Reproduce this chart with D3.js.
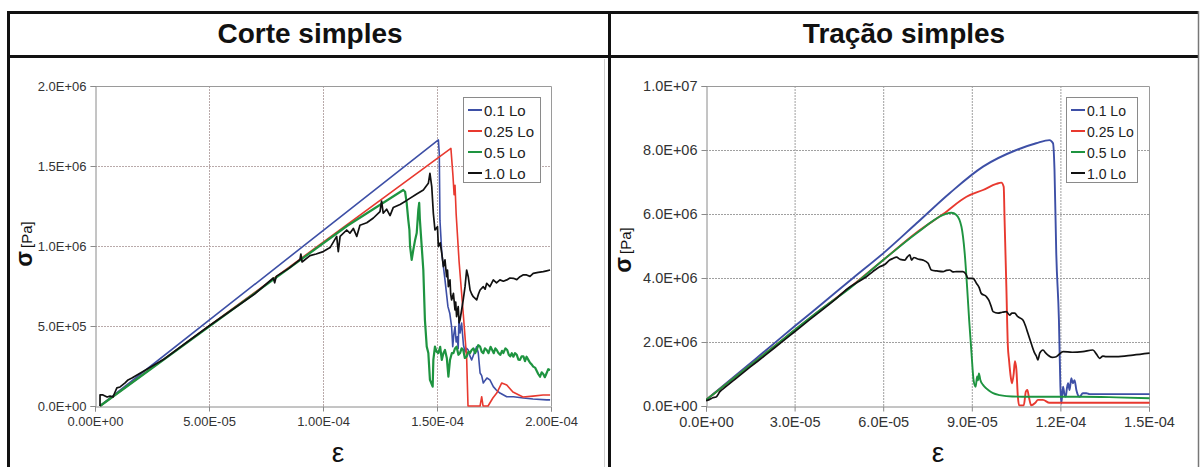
<!DOCTYPE html>
<html>
<head>
<meta charset="utf-8">
<script src="https://cdn.jsdelivr.net/npm/d3@7"></script>
<style>
  html, body { margin: 0; padding: 0; background: #ffffff; }
  svg { display: block; }
  text { font-family: "Liberation Sans", Arial, Helvetica, sans-serif; }
</style>
</head>
<body>
<svg id="fig" width="1201" height="467"></svg>
<script>
// Strain in units of 1e-6, stress in MPa (1e6 Pa).

const seriesNames = ["0.1 Lo", "0.25 Lo", "0.5 Lo", "1.0 Lo"];
const seriesColors = ["#3d4fa6", "#e8392f", "#1e9440", "#111111"];

// ---- Corte simples (simple shear) ----
const shearBlue = [[2.2,0],[150.6,1.663],[151.0,1.58],[151.3,1.16],[152.1,0.956],[153.5,0.788],[154.8,0.621],[155.6,0.58],[156.4,0.496],[156.9,0.371],[157.4,0.45],[157.9,0.496],[158.4,0.40],[158.9,0.433],[159.3,0.36],[159.6,0.538],[160.1,0.456],[160.8,0.519],[161.6,0.381],[162.3,0.338],[163.0,0.36],[163.7,0.35],[164.5,0.31],[165.2,0.288],[166.3,0.33],[167.4,0.371],[168.1,0.331],[168.9,0.206],[169.6,0.19],[170.3,0.144],[171.1,0.16],[171.9,0.175],[173.2,0.163],[174.7,0.121],[176.0,0.10],[177.6,0.081],[180.6,0.058],[183.5,0.058],[187.9,0.05],[192.1,0.044],[198.1,0.038],[199.6,0.038]];

const shearRed = [[2.2,0],[156.1,1.61],[157.0,1.44],[157.5,1.32],[157.9,1.38],[158.4,1.20],[159.7,0.90],[161.5,0.58],[163.0,0.30],[163.6,0],[168.9,0],[169.6,0.058],[170.2,0],[172.4,0],[174.5,0.05],[176.2,0.081],[178.4,0.144],[180.6,0.131],[183.3,0.0875],[187.7,0.056],[192.1,0.062],[196.5,0.069],[199.6,0.069]];

const shearGreen = [[2.2,0],[110.5,1.125],[135.2,1.35],[136.0,1.339],[136.7,1.269],[137.4,1.163],[137.9,1.10],[138.2,0.996],[138.9,0.913],[139.6,0.975],[140.4,1.038],[141.1,1.081],[141.8,1.225],[142.2,1.269],[142.5,1.163],[143.3,0.996],[144.0,0.85],[144.7,0.538],[145.5,0.371],[146.2,0.331],[146.9,0.163],[148.1,0.121],[148.4,0.288],[149.1,0.371],[149.8,0.34],[150.6,0.331],[151.4,0.37],[152.1,0.288],[152.8,0.33],[153.5,0.35],[154.3,0.30],[155.0,0.183],[155.7,0.288],[156.5,0.33],[157.2,0.331],[157.9,0.36],[158.6,0.371],[159.4,0.32],[160.1,0.331],[160.8,0.36],[161.5,0.35],[162.2,0.30],[163.0,0.308],[163.8,0.34],[164.5,0.331],[165.2,0.35],[166.0,0.36],[166.7,0.33],[167.4,0.35],[168.1,0.38],[168.9,0.371],[169.6,0.34],[170.3,0.33],[171.0,0.36],[171.8,0.35],[172.6,0.33],[173.5,0.37],[174.2,0.35],[174.9,0.33],[175.6,0.36],[176.2,0.35],[177.0,0.33],[177.8,0.32],[178.5,0.345],[179.1,0.331],[180.0,0.36],[180.8,0.35],[181.5,0.32],[182.1,0.31],[182.8,0.33],[183.5,0.308],[184.2,0.33],[185.0,0.32],[185.7,0.29],[186.4,0.288],[187.1,0.31],[187.9,0.31],[188.6,0.28],[189.3,0.308],[190.0,0.29],[190.8,0.27],[191.5,0.26],[192.2,0.246],[193.0,0.24],[193.7,0.22],[194.4,0.20],[195.2,0.183],[195.9,0.21],[196.6,0.20],[197.3,0.18],[198.1,0.206],[198.8,0.23],[199.6,0.225]];

const shearBlack = [[2.2,0],[2.2,0.069],[3.5,0.069],[5.3,0.056],[6.6,0.062],[7.9,0.056],[8.8,0.0875],[9.6,0.113],[11.0,0.119],[13.2,0.144],[14.5,0.163],[16.2,0.175],[30,0.29],[40,0.395],[50,0.50],[60,0.60],[70,0.70],[78.2,0.800],[78.8,0.77],[79.5,0.81],[85,0.86],[89.9,0.915],[90.3,0.95],[90.8,0.90],[94.3,0.94],[97,0.95],[100.1,0.965],[103.1,0.99],[106.0,1.06],[106.7,0.965],[107.5,1.06],[110.4,1.10],[111.8,1.08],[113.3,1.11],[114.8,1.06],[116.2,1.13],[119.2,1.145],[122.1,1.175],[125.0,1.215],[125.7,1.28],[126.4,1.205],[127.9,1.23],[129.4,1.19],[130.8,1.24],[133.8,1.26],[136.7,1.285],[141.1,1.325],[144.0,1.35],[146.2,1.392],[146.9,1.454],[147.7,1.371],[148.4,1.204],[149.1,1.10],[150.2,1.121],[150.6,0.996],[151.4,1.02],[152.1,0.954],[152.8,0.871],[153.5,0.913],[154.2,0.808],[154.6,0.85],[155.0,0.746],[155.7,0.788],[156.0,0.70],[156.4,0.663],[157.2,0.704],[157.9,0.60],[158.2,0.65],[158.6,0.558],[159.3,0.621],[159.7,0.52],[160.1,0.538],[160.8,0.60],[161.5,0.663],[162.3,0.746],[163.0,0.85],[163.7,0.808],[164.5,0.725],[165.2,0.70],[165.9,0.683],[167.4,0.663],[168.2,0.70],[168.9,0.725],[170.3,0.746],[171.1,0.73],[171.8,0.767],[173.2,0.746],[174.7,0.788],[176.1,0.77],[177.6,0.788],[179.1,0.78],[180.6,0.788],[182.0,0.80],[183.5,0.798],[185.0,0.79],[186.4,0.808],[187.9,0.82],[189.3,0.819],[190.8,0.81],[192.2,0.829],[194.4,0.835],[196.6,0.840],[198.1,0.845],[199.6,0.85]];

const shearXTicks = [0, 50, 100, 150, 200];
const shearXLabels = ["0.00E+00", "5.00E-05", "1.00E-04", "1.50E-04", "2.00E-04"];
const shearYTicks = [0, 0.5, 1.0, 1.5, 2.0];
const shearYLabels = ["0.0E+00", "5.0E+05", "1.0E+06", "1.5E+06", "2.0E+06"];

// ---- Tração simples (simple tension) ----
const tensionBlue = [[0,0.19],[10,0.95],[20,1.72],[30,2.49],[40,3.25],[49.8,4.0],[60,4.77],[71.3,5.71],[82.5,6.65],[93.8,7.48],[105.1,8.0],[111.8,8.21],[116.3,8.31],[117.5,8.21],[118.0,7.38],[118.6,4.77],[119.5,2.69],[120.0,0.6],[120.3,0.08],[120.9,0.6],[121.4,0.35],[121.8,0.29],[122.2,0.55],[122.6,0.71],[123.1,0.5],[123.7,0.87],[124.2,0.71],[124.8,0.81],[125.4,0.5],[126.5,0.29],[127.6,0.4],[128.8,0.4],[129.9,0.37],[150.2,0.37]];

const tensionRed = [[0,0.19],[20,1.64],[40,3.09],[48.7,3.70],[60,4.56],[71.3,5.42],[80.3,6.0],[88.2,6.54],[93.8,6.75],[98.3,6.94],[100.0,6.98],[100.8,6.85],[101.1,5.81],[101.7,3.73],[102.2,1.9],[102.6,1.44],[103.2,0.9],[103.6,0.71],[104.2,1.02],[104.6,1.40],[105.1,1.13],[105.6,0.29],[106.0,0.02],[107.6,0.02],[108.3,0.45],[108.8,0.5],[109.4,0.25],[110.1,0.02],[111.5,0.1],[112.4,0.19],[114.1,0.19],[116.3,0.1],[150.2,0.1]];

const tensionGreen = [[0,0.19],[20,1.64],[40,3.09],[48.7,3.68],[60,4.56],[71.3,5.4],[80.3,5.97],[81.4,6.01],[83.1,6.04],[84.8,5.97],[86.5,5.6],[87.6,4.77],[88.4,3.73],[89.1,2.69],[89.9,1.65],[90.6,0.81],[91.3,0.6],[91.8,0.92],[92.1,0.80],[92.4,1.02],[92.9,0.81],[93.8,0.66],[94.9,0.55],[96.0,0.47],[97.2,0.4],[99.4,0.34],[101.7,0.31],[107.3,0.29],[127.6,0.29],[138.9,0.27],[150.2,0.24]];

const tensionBlack = [[0,0.17],[1.1,0.20],[2.3,0.26],[3.4,0.28],[4.7,0.45],[6,0.55],[10,0.85],[15,1.22],[20,1.58],[25,1.95],[30,2.32],[35,2.69],[40,3.05],[44,3.35],[48.7,3.72],[51.5,3.88],[54.3,4.04],[56.5,4.2],[58.8,4.35],[60.5,4.42],[62.2,4.56],[63.3,4.61],[64.5,4.65],[65.8,4.58],[67.3,4.56],[68.2,4.66],[69.0,4.72],[69.6,4.56],[70.4,4.64],[71.3,4.61],[72.3,4.58],[73.5,4.56],[75.2,4.46],[76.3,4.25],[78.2,4.22],[80.3,4.2],[81.4,4.24],[82.5,4.25],[83.6,4.19],[84.8,4.2],[87.0,4.2],[88.0,4.12],[88.7,3.99],[90.4,3.99],[91.6,3.83],[92.5,3.7],[93.2,3.52],[94.9,3.42],[95.8,3.3],[96.6,3.1],[97.2,2.95],[98.9,2.9],[100.3,2.93],[101.7,2.95],[102.8,2.84],[103.6,2.9],[104.5,2.9],[105.6,2.79],[107.3,2.69],[108.2,2.5],[109.0,2.27],[110.1,1.96],[111.3,1.65],[111.9,1.55],[112.4,1.44],[113.0,1.65],[114.1,1.75],[115.0,1.66],[115.8,1.59],[117.2,1.52],[118.6,1.54],[120.9,1.7],[124.0,1.68],[127.6,1.7],[131.0,1.75],[132.2,1.62],[133.3,1.49],[134.4,1.56],[135.5,1.54],[138.9,1.54],[144.6,1.59],[150.2,1.65]];

const tensionXTicks = [0, 30, 60, 90, 120, 150];
const tensionXLabels = ["0.0E+00", "3.0E-05", "6.0E-05", "9.0E-05", "1.2E-04", "1.5E-04"];
const tensionYTicks = [0, 2, 4, 6, 8, 10];
const tensionYLabels = ["0.0E+00", "2.0E+06", "4.0E+06", "6.0E+06", "8.0E+06", "1.0E+07"];

const svg = d3.select("#fig");

// ---- outer frame with the title row ----
const frame = svg.append("g").attr("class", "frame");
frame.append("rect").attr("x", 0).attr("y", 0).attr("width", 1201).attr("height", 467).attr("fill", "#ffffff");
[[7, 12.5, 1199, 12.5], [7, 56.5, 1199, 56.5], [8.5, 11, 8.5, 467], [609.5, 11, 609.5, 467]]
  .forEach(([x1, y1, x2, y2]) => frame.append("line")
    .attr("x1", x1).attr("y1", y1).attr("x2", x2).attr("y2", y2)
    .attr("stroke", "#111").attr("stroke-width", 3));
frame.append("line").attr("x1", 1198.5).attr("y1", 11).attr("x2", 1198.5).attr("y2", 467)
  .attr("stroke", "#777").attr("stroke-width", 1.5);
frame.append("line").attr("x1", 604.5).attr("y1", 59).attr("x2", 604.5).attr("y2", 467)
  .attr("stroke", "#d0d0d0").attr("stroke-width", 1);

function drawPanel(cfg) {
  const g = svg.append("g");
  const x = d3.scaleLinear().domain(cfg.xDomain).range([cfg.left, cfg.right]);
  const y = d3.scaleLinear().domain(cfg.yDomain).range([cfg.bottom, cfg.top]);

  // title
  g.append("text").attr("x", cfg.titleX).attr("y", 43).attr("text-anchor", "middle")
    .attr("font-size", 28).attr("font-weight", "bold").attr("fill", "#111").text(cfg.title);

  // gridlines
  const grid = g.append("g");
  grid.selectAll("line.h").data(cfg.yTicks.slice(1, -1)).join("line")
    .attr("x1", cfg.left).attr("x2", cfg.right)
    .attr("y1", d => y(d) + 0.5).attr("y2", d => y(d) + 0.5)
    .attr("stroke", cfg.gridColor).attr("stroke-width", 1).attr("stroke-dasharray", "2,1");
  grid.selectAll("line.v").data(cfg.xTicks.slice(1, -1)).join("line")
    .attr("y1", cfg.top).attr("y2", cfg.bottom)
    .attr("x1", d => x(d) + 0.5).attr("x2", d => x(d) + 0.5)
    .attr("stroke", cfg.gridColor).attr("stroke-width", 1).attr("stroke-dasharray", "2,1");
  // plot border on top and right
  g.append("path")
    .attr("d", `M${cfg.left},${cfg.top + 0.5}H${cfg.right + 0.5}V${cfg.bottom}`)
    .attr("fill", "none").attr("stroke", "#9a9a9a").attr("stroke-width", 1);

  // axes
  const xAxis = d3.axisBottom(x).tickValues(cfg.xTicks)
    .tickFormat((d, i) => cfg.xLabels[i]).tickSize(5).tickPadding(5);
  const yAxis = d3.axisLeft(y).tickValues(cfg.yTicks)
    .tickFormat((d, i) => cfg.yLabels[i]).tickSize(5).tickPadding(4);
  const gx = g.append("g").attr("transform", `translate(0,${cfg.bottom + 0.5})`).call(xAxis);
  const gy = g.append("g").attr("transform", `translate(${cfg.left + 0.5},0)`).call(yAxis);
  [gx, gy].forEach(a => {
    a.attr("font-size", cfg.tickSize).attr("font-family", "'Liberation Sans', Arial, sans-serif");
    a.select(".domain").attr("stroke", "#8a8a8a");
    a.selectAll(".tick line").attr("stroke", "#8a8a8a");
    a.selectAll(".tick text").attr("fill", "#333");
  });

  // curves
  const clipId = "clip-" + cfg.key;
  svg.append("defs").append("clipPath").attr("id", clipId).append("rect")
    .attr("x", cfg.left).attr("y", cfg.top - 2).attr("width", cfg.right - cfg.left + 1)
    .attr("height", cfg.bottom - cfg.top + 3);
  const line = d3.line().x(d => x(d[0])).y(d => y(d[1])).curve(cfg.curve);
  const plot = g.append("g").attr("clip-path", `url(#${clipId})`);
  cfg.series.forEach((s, i) => {
    plot.append("path").datum(s).attr("d", line)
      .attr("fill", "none").attr("stroke", seriesColors[i])
      .attr("stroke-width", cfg.widths[i])
      .attr("stroke-linejoin", "round");
  });

  // axis titles
  g.append("text").attr("x", cfg.epsX).attr("y", 462).attr("text-anchor", "middle")
    .attr("font-size", 28).attr("fill", "#111").text("ε");
  const yt = g.append("text")
    .attr("transform", `translate(${cfg.sigmaX},${cfg.sigmaY}) rotate(-90)`)
    .attr("text-anchor", "middle").attr("fill", "#111");
  yt.append("tspan").attr("font-size", 23).attr("font-weight", "bold").text("σ");
  yt.append("tspan").attr("font-size", 15).attr("dx", 3).text("[Pa]");

  // legend
  const lg = g.append("g");
  lg.append("rect").attr("x", cfg.legX + 0.5).attr("y", 97.5).attr("width", cfg.legW).attr("height", 85)
    .attr("fill", "#fff").attr("stroke", "#8a8a8a").attr("stroke-width", 1);
  seriesNames.forEach((name, i) => {
    const yy = 110 + i * 21;
    lg.append("line").attr("x1", cfg.legX + 5).attr("x2", cfg.legX + 19)
      .attr("y1", yy).attr("y2", yy).attr("stroke", seriesColors[i]).attr("stroke-width", 2);
    lg.append("text").attr("x", cfg.legX + 21).attr("y", yy + 5.5)
      .attr("font-size", cfg.legFont).attr("fill", "#222").text(name);
  });
}

drawPanel({
  key: "shear", title: "Corte simples", titleX: 310,
  left: 95, right: 551, top: 86, bottom: 406,
  xDomain: [0, 200], yDomain: [0, 2],
  xTicks: shearXTicks, xLabels: shearXLabels, yTicks: shearYTicks, yLabels: shearYLabels,
  gridColor: "#b9aaaa", tickSize: 13,
  series: [shearBlue, shearRed, shearGreen, shearBlack],
  curve: d3.curveLinear, widths: [1.6, 1.6, 2.2, 1.7],
  epsX: 338, sigmaX: 32, sigmaY: 244,
  legX: 463, legW: 77, legFont: 15
});

drawPanel({
  key: "tension", title: "Tração simples", titleX: 904,
  left: 706, right: 1149, top: 86, bottom: 406,
  xDomain: [0, 150], yDomain: [0, 10],
  xTicks: tensionXTicks, xLabels: tensionXLabels, yTicks: tensionYTicks, yLabels: tensionYLabels,
  gridColor: "#a0a0a0", tickSize: 14.5,
  series: [tensionBlue, tensionRed, tensionGreen, tensionBlack],
  curve: d3.curveMonotoneX, widths: [1.9, 1.9, 1.9, 1.7],
  epsX: 938, sigmaX: 631, sigmaY: 250,
  legX: 1066, legW: 71, legFont: 14
});
</script>
</body>
</html>
